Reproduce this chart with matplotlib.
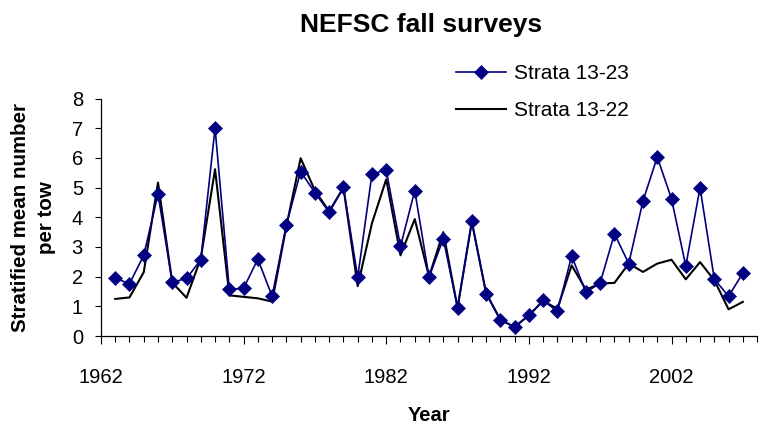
import matplotlib
matplotlib.use("Agg")
import matplotlib.pyplot as plt
from matplotlib.ticker import MultipleLocator

plt.rcParams['font.family'] = ['Liberation Sans', 'DejaVu Sans']

years = list(range(1963, 2008))

# stratified mean number per tow
strata_13_23 = [1.95, 1.76, 2.72, 4.78, 1.81, 1.94, 2.57, 7.01, 1.57, 1.61,
                2.59, 1.34, 3.75, 5.54, 4.83, 4.17, 5.01, 1.98, 5.46, 5.59,
                3.02, 4.90, 1.98, 3.28, 0.95, 3.86, 1.43, 0.54, 0.31, 0.70,
                1.20, 0.83, 2.70, 1.47, 1.79, 3.45, 2.44, 4.55, 6.03, 4.62,
                2.36, 5.00, 1.92, 1.34, 2.12]
strata_13_22 = [1.25, 1.30, 2.15, 5.17, 1.80, 1.29, 2.62, 5.62, 1.37, 1.32,
                1.27, 1.16, 3.70, 5.99, 4.90, 4.20, 5.00, 1.68, 3.80, 5.28,
                2.72, 3.94, 2.00, 3.50, 0.95, 3.85, 1.45, 0.55, 0.30, 0.70,
                1.18, 0.92, 2.38, 1.56, 1.77, 1.79, 2.44, 2.16, 2.44, 2.57,
                1.91, 2.49, 1.88, 0.90, 1.15]

major_years = [1962, 1972, 1982, 1992, 2002]

fig = plt.figure(figsize=(7.59, 4.24), dpi=100)
ax = fig.add_axes([0.133, 0.2075, 0.8645, 0.56])

l22, = ax.plot(years, strata_13_22, color='black', lw=1.5, label='Strata 13-22', zorder=2)
l23, = ax.plot(years, strata_13_23, color='#000080', lw=1.2, marker='D', ms=7,
               mec='#000080', mew=0.5, label='Strata 13-23', zorder=3)

ax.set_xlim(1962, 2008)
ax.set_ylim(0, 8)
ax.set_xticks(major_years)
ax.xaxis.set_minor_locator(MultipleLocator(1))
ax.yaxis.set_major_locator(MultipleLocator(1))

for s in ['top', 'right']:
    ax.spines[s].set_visible(False)
for s in ['left', 'bottom']:
    ax.spines[s].set_linewidth(0.9)

ax.tick_params(axis='x', which='major', direction='out', length=6, width=0.8,
               labelsize=14.5, pad=17)
ax.tick_params(axis='x', which='minor', direction='out', length=4.3, width=0.8)
ax.tick_params(axis='y', which='major', direction='out', length=4, width=0.8,
               labelsize=14.5, pad=9)

ax.set_xlabel('Year', fontsize=14.5, fontweight='bold', labelpad=14)
ax.set_ylabel('Stratified mean number\nper tow', fontsize=14.8, fontweight='bold',
              labelpad=11, linespacing=1.5)

fig.text(421 / 759, 1 - 25 / 424, 'NEFSC fall surveys', fontsize=19,
         fontweight='bold', ha='center', va='center')

fig.legend(handles=[l23, l22], loc='upper left', bbox_to_anchor=(448 / 759, 1 - 56 / 424),
           frameon=False, fontsize=15, handlelength=2.4, handletextpad=0.35,
           labelspacing=0.85, borderaxespad=0)

fig.savefig('out.png', dpi=100)
